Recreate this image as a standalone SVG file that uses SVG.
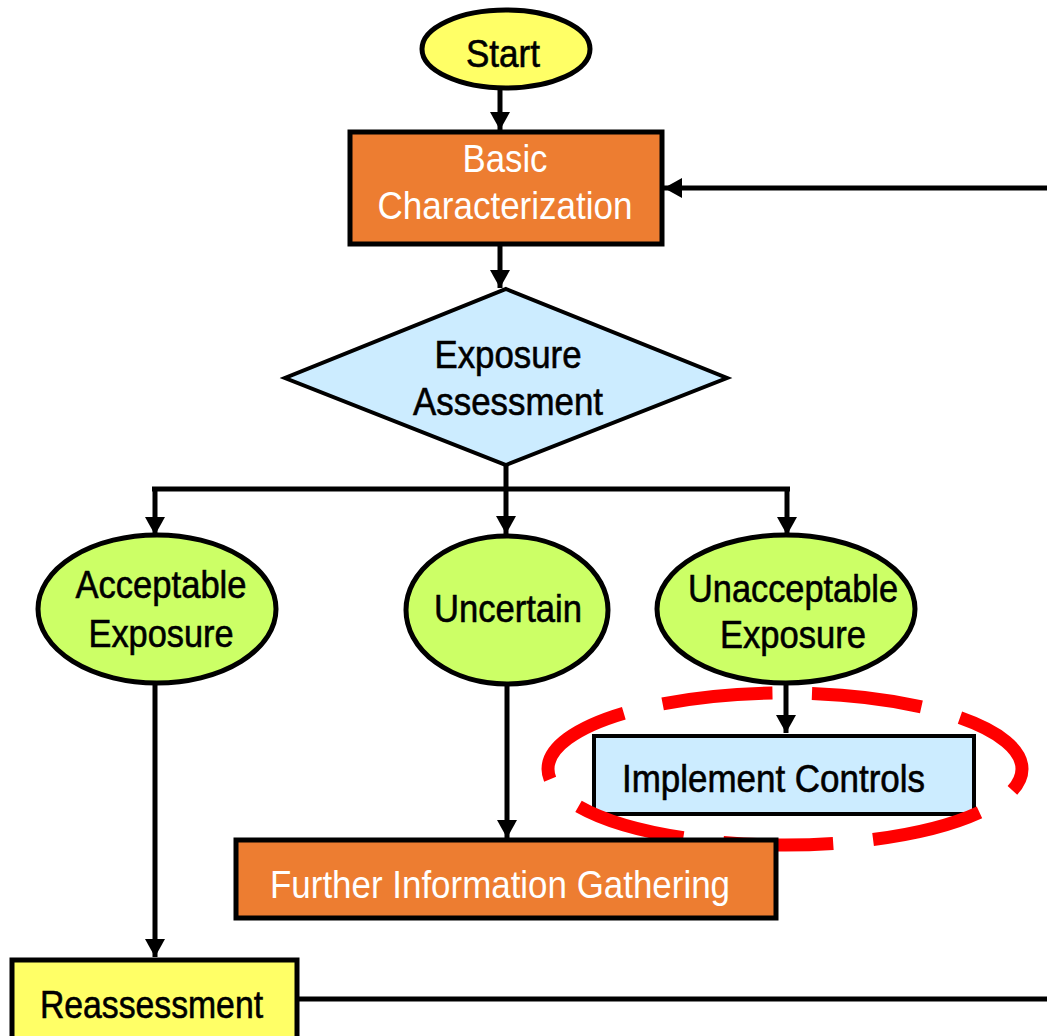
<svg xmlns="http://www.w3.org/2000/svg" width="1047" height="1036" viewBox="0 0 1047 1036">
<defs>
<marker id="ah" markerUnits="userSpaceOnUse" markerWidth="20" markerHeight="20" refX="18" refY="10" orient="auto">
<path d="M0,0 L18,10 L0,20 z" fill="#000"/>
</marker>
<style>
.t{font-family:"Liberation Sans",Arial,sans-serif;font-size:38px;fill:#000;}
.k{stroke:#000;stroke-width:0.6;}
.w{fill:#fff;}
.s{stroke:#000;stroke-width:5;}
.c{stroke:#000;stroke-width:5;fill:none;}
.o{fill:#ED7D31;}
.y{fill:#FFFF66;}
.b{fill:#CCECFF;}
.g{fill:#CCFF66;}
</style>
</defs>
<rect width="1047" height="1036" fill="#fff"/>
<g id="connectors">
<line class="c" x1="500" y1="88" x2="500" y2="130" marker-end="url(#ah)"/>
<line class="c" x1="500" y1="245" x2="500" y2="288" marker-end="url(#ah)"/>
<polyline class="c" points="506,466 506,489"/>
<line class="c" x1="152" y1="489" x2="790" y2="489"/>
<line class="c" x1="155" y1="489" x2="155" y2="535" marker-end="url(#ah)"/>
<line class="c" x1="506" y1="489" x2="506" y2="534" marker-end="url(#ah)"/>
<line class="c" x1="787" y1="489" x2="787" y2="535" marker-end="url(#ah)"/>
<line class="c" x1="155" y1="684" x2="155" y2="957" marker-end="url(#ah)"/>
<line class="c" x1="507" y1="684" x2="507" y2="838" marker-end="url(#ah)"/>
<line class="c" x1="786" y1="683" x2="786" y2="733" marker-end="url(#ah)"/>
<line class="c" x1="298" y1="999" x2="1047" y2="999"/>
<line class="c" x1="1047" y1="188" x2="664" y2="188" marker-end="url(#ah)"/>
</g>
<g id="start">
<ellipse class="s y" cx="506" cy="49" rx="84" ry="39"/>
<text class="t k" x="503" y="67" text-anchor="middle" textLength="74" lengthAdjust="spacingAndGlyphs" font-size="40">Start</text>
</g>
<g id="basic">
<rect class="s o" x="350" y="132" width="312" height="112"/>
<text class="t w" x="505" y="172" text-anchor="middle" textLength="85" lengthAdjust="spacingAndGlyphs">Basic</text>
<text class="t w" x="505" y="219" text-anchor="middle" textLength="255" lengthAdjust="spacingAndGlyphs">Characterization</text>
</g>
<g id="exposure-assessment">
<polygon class="b" points="506,289 727,378 506,465 285,378" stroke="#000" stroke-width="4"/>
<text class="t k" x="508" y="368" text-anchor="middle" textLength="147" lengthAdjust="spacingAndGlyphs" font-size="36">Exposure</text>
<text class="t k" x="508" y="415" text-anchor="middle" textLength="190" lengthAdjust="spacingAndGlyphs" font-size="36">Assessment</text>
</g>
<g id="acceptable">
<ellipse class="s g" cx="157" cy="609" rx="119" ry="74" stroke-width="4"/>
<text class="t k" x="161" y="598" text-anchor="middle" textLength="171" lengthAdjust="spacingAndGlyphs">Acceptable</text>
<text class="t k" x="161" y="647" text-anchor="middle" textLength="145" lengthAdjust="spacingAndGlyphs">Exposure</text>
</g>
<g id="uncertain">
<ellipse class="s g" cx="507" cy="610" rx="101" ry="74" stroke-width="4"/>
<text class="t k" x="508" y="622" text-anchor="middle" textLength="148" lengthAdjust="spacingAndGlyphs">Uncertain</text>
</g>
<g id="unacceptable">
<ellipse class="s g" cx="786" cy="609" rx="129" ry="74" stroke-width="4"/>
<text class="t k" x="793" y="602" text-anchor="middle" textLength="210" lengthAdjust="spacingAndGlyphs">Unacceptable</text>
<text class="t k" x="793" y="648" text-anchor="middle" textLength="146" lengthAdjust="spacingAndGlyphs">Exposure</text>
</g>
<g id="implement-controls">
<rect class="b" x="594" y="736" width="380" height="78" stroke="#000" stroke-width="4"/>
<text class="t k" x="622" y="792" textLength="303" lengthAdjust="spacingAndGlyphs">Implement Controls</text>
</g>
<g id="highlight">
<ellipse cx="785" cy="769" rx="237" ry="76" fill="none" stroke="#FF0000" stroke-width="13" stroke-dasharray="110 40" stroke-dashoffset="86"/>
</g>
<g id="further-information">
<rect class="s o" x="236" y="840" width="540" height="78" stroke-width="4"/>
<text class="t w" x="270" y="898" textLength="460" lengthAdjust="spacingAndGlyphs">Further Information Gathering</text>
</g>
<g id="reassessment">
<rect class="s y" x="12" y="960" width="285" height="90" stroke-width="4"/>
<text class="t k" x="40" y="1018" textLength="223" lengthAdjust="spacingAndGlyphs">Reassessment</text>
</g>
</svg>
